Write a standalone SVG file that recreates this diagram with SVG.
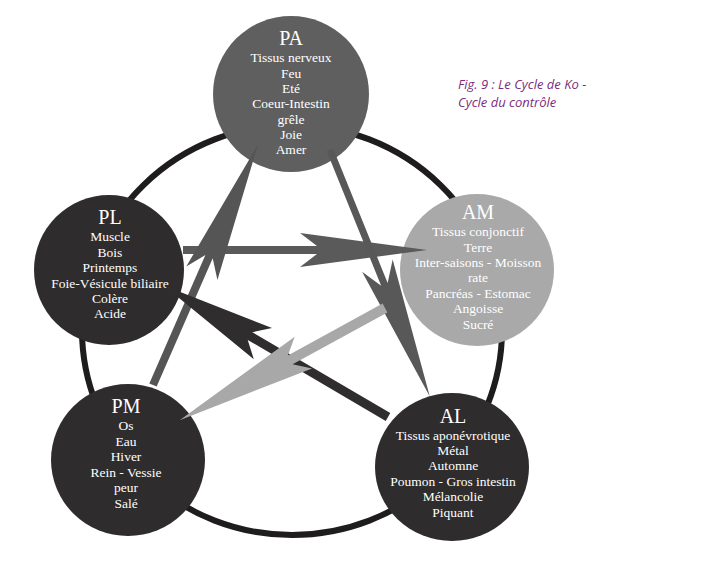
<svg xmlns="http://www.w3.org/2000/svg" width="720" height="570" viewBox="0 0 720 570">
<style>
.t{font-family:"Liberation Serif","Times New Roman",serif;fill:#fff;text-anchor:middle;font-size:13.5px}
.h{font-size:20px}
.cap{font-family:"Open Sans","DejaVu Sans",sans-serif;font-style:italic;fill:#7b2d7d;font-size:13px}
</style>
<rect width="720" height="570" fill="#fff"/>
<ellipse cx="292" cy="330" rx="210" ry="205" fill="none" stroke="#1e1c1d" stroke-width="6"/>
<g id="PA"><ellipse cx="291" cy="94" rx="78" ry="78" fill="#5f5f5f"/>
<text class="t" x="291"><tspan class="h" x="291" y="45">PA</tspan><tspan x="291" y="62">Tissus nerveux</tspan><tspan x="291" y="78">Feu</tspan><tspan x="291" y="93">Eté</tspan><tspan x="291" y="108">Coeur-Intestin</tspan><tspan x="291" y="124">grêle</tspan><tspan x="291" y="139">Joie</tspan><tspan x="291" y="154">Amer</tspan></text></g>
<g id="PL"><ellipse cx="109" cy="270" rx="75" ry="75" fill="#2f2c2d"/>
<text class="t"><tspan class="h" x="110" y="224">PL</tspan><tspan x="110" y="241">Muscle</tspan><tspan x="110" y="257">Bois</tspan><tspan x="110" y="272">Printemps</tspan><tspan x="110" y="288">Foie-Vésicule biliaire</tspan><tspan x="110" y="303">Colère</tspan><tspan x="110" y="318">Acide</tspan></text></g>
<g id="AM"><ellipse cx="477" cy="270" rx="77" ry="76" fill="#a9a9a9"/>
<text class="t"><tspan class="h" x="478" y="219">AM</tspan><tspan x="478" y="236">Tissus conjonctif</tspan><tspan x="478" y="252">Terre</tspan><tspan x="478" y="267">Inter-saisons - Moisson</tspan><tspan x="478" y="282">rate</tspan><tspan x="478" y="298">Pancréas - Estomac</tspan><tspan x="478" y="313">Angoisse</tspan><tspan x="478" y="329">Sucré</tspan></text></g>
<g id="PM"><ellipse cx="128" cy="460" rx="77" ry="76" fill="#2f2c2d"/>
<text class="t"><tspan class="h" x="126" y="413">PM</tspan><tspan x="126" y="430">Os</tspan><tspan x="126" y="446">Eau</tspan><tspan x="126" y="461">Hiver</tspan><tspan x="126" y="477">Rein - Vessie</tspan><tspan x="126" y="492">peur</tspan><tspan x="126" y="508">Salé</tspan></text></g>
<g id="AL"><ellipse cx="452" cy="467" rx="77" ry="74" fill="#2f2c2d"/>
<text class="t"><tspan class="h" x="453" y="423">AL</tspan><tspan x="453" y="440">Tissus aponévrotique</tspan><tspan x="453" y="455">Métal</tspan><tspan x="453" y="470">Automne</tspan><tspan x="453" y="486">Poumon - Gros intestin</tspan><tspan x="453" y="501">Mélancolie</tspan><tspan x="453" y="517">Piquant</tspan></text></g>
<g id="connectors">
<polygon transform="translate(183,250)" fill="#5a5a5a" points="0,-4 134,-4 117,-17 244,0 117,17 134,4 0,4"/>
<polygon transform="translate(330,150) rotate(67.96)" fill="#585858" points="0,-3.5 145,-3.5 125,-17 266,0 125,16 145,3.5 0,3.5"/>
<polygon transform="translate(153,385) rotate(-66.4)" fill="#555" points="0,-4 140,-4 122,-17 262,0 122,17 140,4 0,4"/>
<polygon transform="translate(388,417) rotate(210.4)" fill="#2f2d2e" points="0,-4.5 160,-4.5 145,-18 260,0 145,18 160,4.5 0,4.5"/>
<polygon transform="translate(385,308) rotate(151.35)" fill="#a8a8a8" points="0,-5 108,-5 93,-18 234,0 93,18 108,5 0,5"/>
</g>
<text class="cap" x="458" y="89">Fig. 9 : Le Cycle de Ko -</text>
<text class="cap" x="458" y="107">Cycle du contrôle</text>
</svg>
